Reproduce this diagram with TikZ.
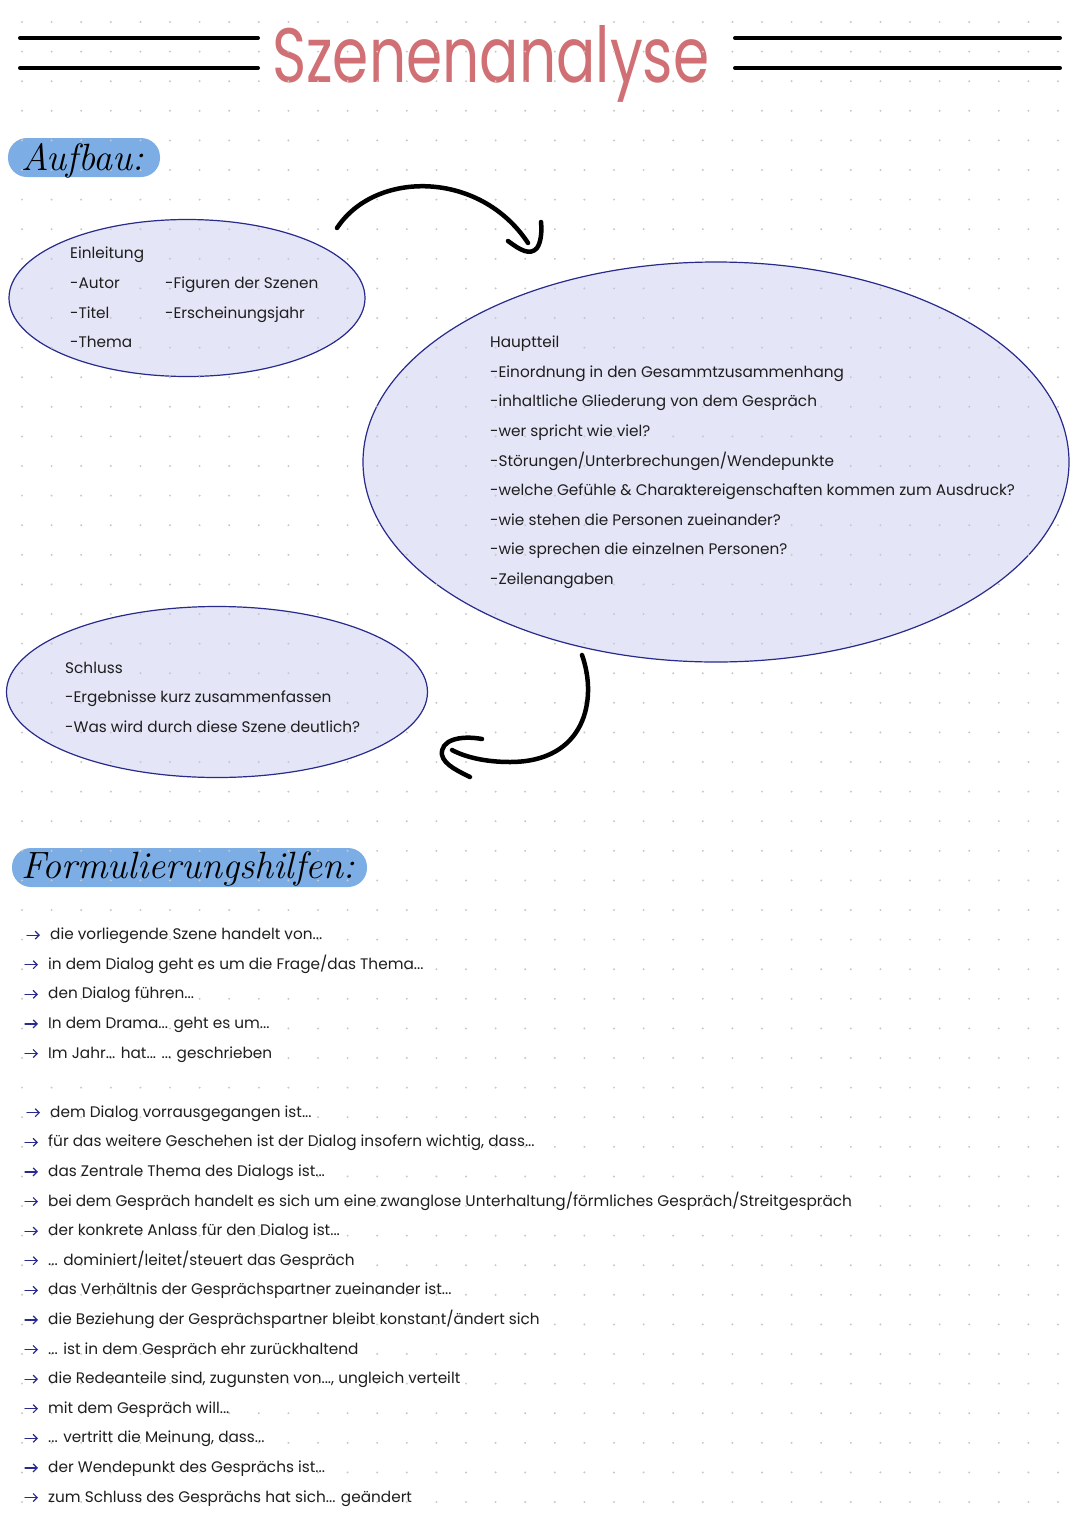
\documentclass[tikz,border=0pt]{standalone}
\usepackage{fontspec}
\newfontfamily\hand{Poppins}
\usetikzlibrary{shapes.geometric,arrows.meta}
\definecolor{navy}{RGB}{40,42,140}
\definecolor{lav}{RGB}{228,229,246}
\definecolor{pillc}{RGB}{124,174,229}
\definecolor{titlered}{RGB}{208,112,116}
\definecolor{dotc}{RGB}{200,200,200}
\definecolor{ink}{RGB}{30,30,30}
\begin{document}
\begin{tikzpicture}[x=1pt,y=-1pt,
  bubble/.style={ellipse,draw=navy,fill=lav,line width=1.2pt,inner sep=0pt},
  txt/.style={anchor=base west,inner sep=0pt,text=ink,font=\hand\fontsize{15.3}{17}\selectfont},
  pillbox/.style={rectangle,rounded corners=19pt,fill=pillc,inner sep=0pt},
  headtxt/.style={anchor=base west,inner sep=0pt,font=\itshape\fontsize{38}{40}\selectfont},
  bigarrow/.style={line width=4.5pt,line cap=round,line join=round},
  rule/.style={line width=4pt,line cap=round},
  bulletarrow/.style={navy,line width=1.2pt,line cap=round,-{Straight Barb[length=4pt,width=8pt]}}]
\useasboundingbox[fill=white] (0,0) rectangle (1080,1526);

% title
\node[anchor=base west,inner sep=0pt,text=titlered] (title) at (272,82)
  {\resizebox{437pt}{57pt}{\hand Szenenanalyse}};
\draw[rule] (20,38) -- (258,38);
\draw[rule] (20,68) -- (258,68);
\draw[rule] (735,38) -- (1060,38);
\draw[rule] (735,68) -- (1060,68);

% pills
\node[pillbox,minimum width=152pt,minimum height=39pt] (aufpill) at (84,157.5) {};
\node[pillbox,minimum width=355pt,minimum height=39pt] (formpill) at (189.5,867.5) {};

% ellipses
\node[bubble,minimum width=356pt,minimum height=157pt] (einl) at (187,298) {};
\node[bubble,minimum width=706pt,minimum height=400pt] (haupt) at (716,462) {};
\node[bubble,minimum width=421pt,minimum height=171pt] (schl) at (217,692) {};

% dot grid
\foreach \j in {0,...,35}{
  \foreach \k in {0,...,50}{
    \fill[dotc] (22+29.6*\j,22+29.6*\k) circle (1.1pt);
  }
}

% headings
\node[headtxt] (aufbau) at (21,170) {Aufbau:};
\node[headtxt] (formh) at (21,878) {Formulierungshilfen:};

% Einleitung
\node[txt] (e0) at (70,258.8) {Einleitung};
\node[txt] (e1) at (70,288.4) {-Autor};
\node[txt] (e2) at (70,318.0) {-Titel};
\node[txt] (e3) at (70,347.6) {-Thema};
\node[txt] (e4) at (165,288.4) {-Figuren der Szenen};
\node[txt] (e5) at (165,318.0) {-Erscheinungsjahr};

% Hauptteil
\node[txt] (h0) at (490,347.6) {Hauptteil};
\node[txt] (h1) at (490,377.2) {-Einordnung in den Gesammtzusammenhang};
\node[txt] (h2) at (490,406.8) {-inhaltliche Gliederung von dem Gespräch};
\node[txt] (h3) at (490,436.4) {-wer spricht wie viel?};
\node[txt] (h4) at (490,466.0) {-Störungen/Unterbrechungen/Wendepunkte};
\node[txt] (h5) at (490,495.6) {-welche Gefühle \& Charaktereigenschaften kommen zum Ausdruck?};
\node[txt] (h6) at (490,525.2) {-wie stehen die Personen zueinander?};
\node[txt] (h7) at (490,554.8) {-wie sprechen die einzelnen Personen?};
\node[txt] (h8) at (490,584.4) {-Zeilenangaben};

% Schluss
\node[txt] (s0) at (65,673.2) {Schluss};
\node[txt] (s1) at (65,702.8) {-Ergebnisse kurz zusammenfassen};
\node[txt] (s2) at (65,732.4) {-Was wird durch diese Szene deutlich?};

% big arrows
\coordinate (a1s) at (337,228);
\coordinate (a1e) at (528,243);
\draw[bigarrow] (a1s) .. controls (375,170) and (480,170) .. (a1e);
\draw[bigarrow] (508,241) .. controls (520,250) and (530,256) .. (537,248) .. controls (541,242) and (542,232) .. (541,222);
\coordinate (a2s) at (582,655);
\coordinate (a2e) at (452,750);
\draw[bigarrow] (a2s) .. controls (598,700) and (585,762) .. (510,762) .. controls (485,762) and (465,757) .. (a2e);
\draw[bigarrow] (482,739) .. controls (460,735) and (440,740) .. (442,755) .. controls (444,765) and (460,772) .. (470,777);

% Formulierungshilfen list
\node[txt] (l1) at (50,939.6) {die vorliegende Szene handelt von...};
\node[txt] (l2) at (48,969.2) {in dem Dialog geht es um die Frage/das Thema...};
\node[txt] (l3) at (48,998.8) {den Dialog führen...};
\node[txt] (l4) at (48,1028.4) {In dem Drama... geht es um...};
\node[txt] (l5) at (48,1058.0) {Im Jahr... hat... ... geschrieben};
\node[txt] (l6) at (50,1117.2) {dem Dialog vorrausgegangen ist...};
\node[txt] (l7) at (48,1146.8) {für das weitere Geschehen ist der Dialog insofern wichtig, dass...};
\node[txt] (l8) at (48,1176.4) {das Zentrale Thema des Dialogs ist...};
\node[txt] (l9) at (48,1206.0) {bei dem Gespräch handelt es sich um eine zwanglose Unterhaltung/förmliches Gespräch/Streitgespräch};
\node[txt] (l10) at (48,1235.6) {der konkrete Anlass für den Dialog ist...};
\node[txt] (l11) at (48,1265.2) {... dominiert/leitet/steuert das Gespräch};
\node[txt] (l12) at (48,1294.8) {das Verhältnis der Gesprächspartner zueinander ist...};
\node[txt] (l13) at (48,1324.4) {die Beziehung der Gesprächspartner bleibt konstant/ändert sich};
\node[txt] (l14) at (48,1354.0) {... ist in dem Gespräch ehr zurückhaltend};
\node[txt] (l15) at (48,1383.6) {die Redeanteile sind, zugunsten von..., ungleich verteilt};
\node[txt] (l16) at (48,1413.2) {mit dem Gespräch will...};
\node[txt] (l17) at (48,1442.8) {... vertritt die Meinung, dass...};
\node[txt] (l18) at (48,1472.4) {der Wendepunkt des Gesprächs ist...};
\node[txt] (l19) at (48,1502.0) {zum Schluss des Gesprächs hat sich... geändert};
\foreach \n in {1,...,19}{
  \draw[bulletarrow] ([shift={(-23pt,4.5pt)}]l\n.base west) -- ++(13,0);
}
\end{tikzpicture}
\end{document}
